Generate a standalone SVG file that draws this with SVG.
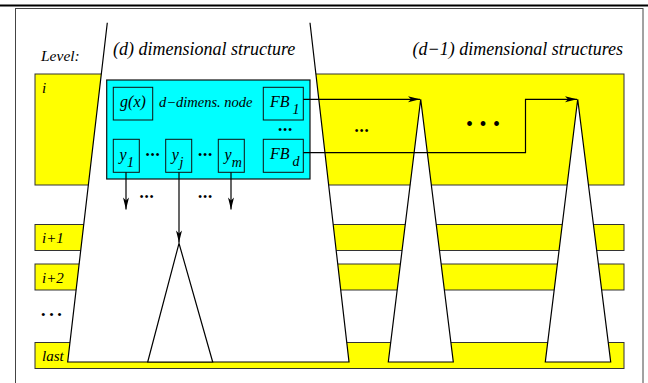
<svg xmlns="http://www.w3.org/2000/svg" width="648" height="383" viewBox="0 0 648 383">
<style>
text{font-family:"Liberation Serif","Times New Roman",serif;font-style:italic;fill:#000}
.band{fill:#ffff00;stroke:#333;stroke-width:1}
.tri{fill:#fff;stroke:#000;stroke-width:1.2}
.box{fill:none;stroke:#111;stroke-width:1}
.conn{fill:none;stroke:#000;stroke-width:1.2}
.lbl{font-size:15px}
.big{font-size:18px}
.dots{font-style:normal;font-size:13px}
</style>
<defs>
<marker id="arr" markerUnits="userSpaceOnUse" markerWidth="14" markerHeight="8" viewBox="-13 -4 14 8" refX="0" refY="0" orient="auto">
<path d="M0,0 L-12,-3 L-9,0 L-12,3 Z" fill="#000"/>
</marker>
</defs>
<rect width="648" height="383" fill="#fff"/>
<line x1="0" y1="5.5" x2="648" y2="5.5" stroke="#000" stroke-width="2.2"/>
<rect x="15.5" y="8.5" width="627.5" height="390" fill="none" stroke="#444" stroke-width="1"/>

<g id="level-i"><rect class="band" x="35" y="74" width="589" height="111"/><text x="42" y="93" class="lbl">i</text></g>
<g id="level-i1"><rect class="band" x="35" y="224.5" width="589" height="26"/><text x="42" y="243" class="lbl">i+1</text></g>
<g id="level-i2"><rect class="band" x="35" y="264" width="589" height="26"/><text x="42" y="283" class="lbl">i+2</text></g>
<g id="level-more"><text x="41" y="318.5" class="dots" style="font-size:13px;letter-spacing:3.6px">•••</text></g>
<g id="level-last"><rect class="band" x="35" y="342.5" width="589" height="26"/><text x="42" y="360.5" class="lbl">last</text></g>

<g id="d-structure">
<path d="M107.3,22.7 L67.7,362 L349,362 L310,22.7" fill="#fff" stroke="#000" stroke-width="1.2"/>
</g>
<g id="sub-structure"><polygon class="tri" points="179,243.3 147.7,362 212.7,362"/></g>
<g id="d1-structure-1"><polygon class="tri" points="420.7,99.3 388.3,362 453.3,362"/></g>
<g id="d1-structure-2"><polygon class="tri" points="577.7,99.3 545.3,362 610.7,362"/></g>

<g id="titles">
<text x="41" y="61" style="font-size:15.5px">Level:</text>
<text x="113" y="55" class="big">(d) dimensional structure</text>
<text x="623" y="55" class="big" text-anchor="end">(d−1) dimensional structures</text>
</g>

<g id="d-node">
<rect x="106.7" y="80" width="203.3" height="99" fill="#00ffff" stroke="#111" stroke-width="1.2"/>
<text x="159" y="107" style="font-size:14.5px">d−dimens. node</text>
<text x="278" y="134" class="dots" style="font-size:12px;letter-spacing:0.8px">•••</text>
<text x="145.5" y="159" class="dots" style="font-size:12px;letter-spacing:0.8px">•••</text>
<text x="198" y="159" class="dots" style="font-size:12px;letter-spacing:0.8px">•••</text>
</g>
<g id="gx"><rect class="box" x="113.3" y="87.3" width="39.4" height="32.7"/><text x="133" y="107" class="lbl" text-anchor="middle" style="font-size:16px">g(x)</text></g>
<g id="fb1"><rect class="box" x="263.3" y="87.3" width="40" height="32.7"/><text x="270" y="107" style="font-size:16px">FB<tspan dx="3" dy="7" style="font-size:14px">1</tspan></text></g>
<g id="fbd"><rect class="box" x="263.3" y="139.3" width="40" height="33"/><text x="270" y="159" style="font-size:16px">FB<tspan dx="3" dy="7" style="font-size:14px">d</tspan></text></g>
<g id="y1"><rect class="box" x="113.3" y="139.3" width="26" height="33"/><text x="119.5" y="159.5" style="font-size:16px">y<tspan dx="0.5" dy="7" style="font-size:14px">1</tspan></text></g>
<g id="yj"><rect class="box" x="165.7" y="139.3" width="26" height="33"/><text x="171.8" y="159.5" style="font-size:16px">y<tspan dx="0.5" dy="7" style="font-size:14px">j</tspan></text></g>
<g id="ym"><rect class="box" x="218.3" y="139.3" width="26" height="33"/><text x="224.5" y="159.5" style="font-size:16px">y<tspan dx="0.2" dy="7" style="font-size:14px">m</tspan></text></g>

<g id="connectors">
<path class="conn" d="M303.3,99.3 H420" marker-end="url(#arr)"/>
<path class="conn" d="M303.3,152.7 H525.5 V99.3 H577" marker-end="url(#arr)"/>
<path class="conn" d="M126,172.3 V209.5" marker-end="url(#arr)"/>
<path class="conn" d="M179,172.3 V242.5" marker-end="url(#arr)"/>
<path class="conn" d="M231,172.3 V209.5" marker-end="url(#arr)"/>
</g>

<g id="annotations">
<text x="139.5" y="200.5" class="dots" style="font-size:12px;letter-spacing:0.8px">•••</text>
<text x="198" y="200.5" class="dots" style="font-size:12px;letter-spacing:0.8px">•••</text>
<text x="354.5" y="134.5" class="dots" style="font-size:12px;letter-spacing:0.8px">•••</text>
<text x="466" y="131" class="dots" style="font-size:20px;letter-spacing:6.5px">•••</text>
</g>
</svg>
